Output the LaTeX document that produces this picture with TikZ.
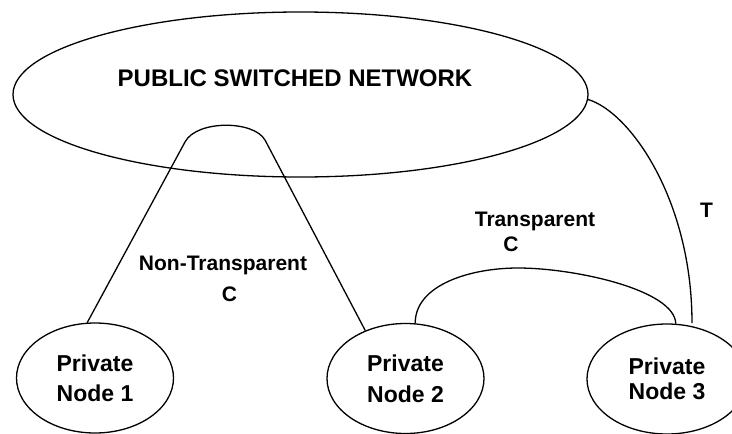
\documentclass[tikz,border=0pt]{standalone}
\usepackage{fontspec}
\setmainfont{Liberation Sans}
\usetikzlibrary{shapes.geometric}
\begin{document}
\begin{tikzpicture}[x=1pt,y=-1pt,
  line/.style={draw=black,line width=1.3pt},
  oval/.style={ellipse,draw=black,line width=1.3pt,inner sep=0pt,align=center},
  pnode/.style={oval,minimum width=157pt,minimum height=110pt},
  lbl/.style={anchor=base,inner sep=0pt,font=\bfseries\fontsize{21}{25}\selectfont}]
\useasboundingbox (0,0) rectangle (732,434);
% public network
\node[oval,minimum width=575pt,minimum height=165pt] (pub) at (300.5,94.5) {};
\node[inner sep=0pt,font=\bfseries\fontsize{24}{28}\selectfont] (pubtext) at (295,78.5) {PUBLIC SWITCHED NETWORK};
% private nodes
\node[pnode,font=\bfseries\fontsize{23}{30}\selectfont] (n1) at (95,378) {Private\\Node 1};
\node[pnode,font=\bfseries\fontsize{23}{31}\selectfont] (n2) at (405.5,378.5) {Private\\Node 2};
\node[pnode,minimum width=160pt,font=\bfseries\fontsize{23}{25}\selectfont] (n3) at (667,379) {Private\\Node 3};
\coordinate (tend) at (692,323);
% non-transparent connection
\draw[line] (n1.98) -- (185,142) .. controls (196.5,120) and (253.5,120) .. (265,140) -- (n2.130.4);
% transparent connection
\draw[line] (n2.80.3) .. controls (415,285) and (470,268) .. (518,268)
  .. controls (575,268) and (675,290) .. (n3.81.9);
% T connection
\draw[line] (pub.-1.3) .. controls (630,112) and (692,200) .. (tend);
% labels
\node[lbl] (lnt) at (223,270) {Non-Transparent};
\node[lbl] (lntc) at (229.5,301) {C};
\node[lbl] (ltr) at (535,226) {Transparent};
\node[lbl] (ltrc) at (511,251) {C};
\node[lbl] (lt) at (706.5,217) {T};
\end{tikzpicture}
\end{document}
